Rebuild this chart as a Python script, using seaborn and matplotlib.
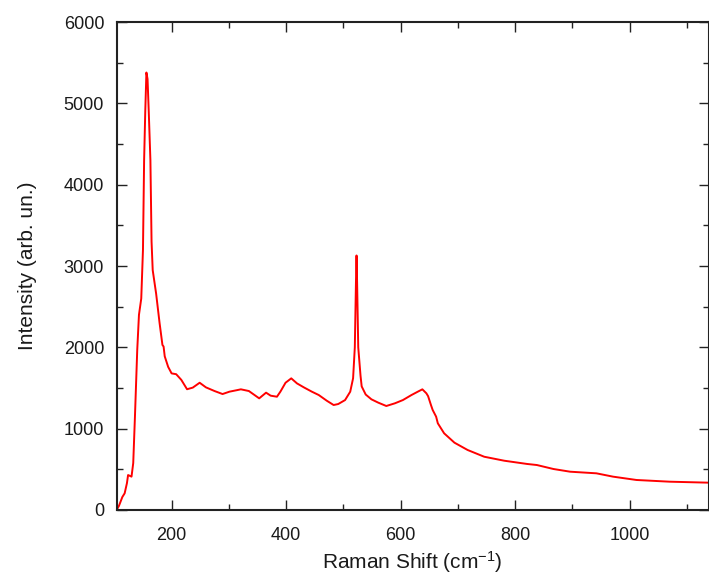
import numpy as np
import pandas as pd
import matplotlib.pyplot as plt
from matplotlib.ticker import MultipleLocator
import seaborn as sns

# --- Spectrum --------------------------------------------------------------
raman_shift = [104, 108, 114, 118, 122, 124, 127, 130, 133, 136, 140, 143, 147,
               150, 152, 154, 156, 158, 160, 163, 165, 167, 173, 179, 184, 186,
               188, 194, 200, 208, 217, 227, 237, 249, 260, 275, 289, 301, 315,
               321, 335, 353, 365, 373, 384, 390, 399, 409, 419, 431, 445, 457,
               471, 483, 491, 503, 512, 517, 520, 522, 523, 524, 526, 530, 532,
               539, 549, 561, 575, 590, 604, 619, 630, 638, 645, 648, 653, 656,
               662, 665, 676, 694, 717, 746, 781, 821, 838, 867, 896, 942, 971,
               1012, 1070, 1138]
intensity = [0, 50, 160, 205, 330, 430, 420, 410, 577, 1150, 1970, 2400, 2600,
             3200, 4300, 4900, 5380, 5300, 4920, 4300, 3300, 2950, 2660, 2300,
             2030, 2010, 1890, 1760, 1680, 1670, 1600, 1485, 1505, 1565, 1508,
             1463, 1426, 1455, 1475, 1484, 1463, 1373, 1443, 1406, 1393, 1455,
             1565, 1619, 1557, 1508, 1455, 1414, 1344, 1291, 1303, 1352, 1455,
             1620, 2000, 2800, 3130, 2800, 2000, 1650, 1520, 1420, 1361, 1320,
             1279, 1312, 1352, 1414, 1455, 1484, 1435, 1400, 1291, 1230, 1148,
             1066, 943, 828, 738, 655, 606, 566, 553, 504, 471, 451, 410, 369,
             348, 336]

df = pd.DataFrame({"shift": raman_shift, "intensity": intensity})

sns.set_style("ticks")
plt.rcParams["font.family"] = ["Liberation Sans", "DejaVu Sans"]
plt.rcParams["mathtext.fontset"] = "custom"
plt.rcParams["mathtext.rm"] = "Liberation Sans"
plt.rcParams["mathtext.it"] = "Liberation Sans"

fig = plt.figure(figsize=(7.09, 5.76), dpi=100)
ax = fig.add_axes([0.1645, 0.1146, 0.835, 0.847])

sns.lineplot(data=df, x="shift", y="intensity", ax=ax, color="#ff0000",
             linewidth=1.4, estimator=None)

ax.set_xlim(104, 1138)
ax.set_ylim(0, 6000)
ax.xaxis.set_major_locator(MultipleLocator(200))
ax.xaxis.set_minor_locator(MultipleLocator(100))
ax.yaxis.set_major_locator(MultipleLocator(1000))
ax.yaxis.set_minor_locator(MultipleLocator(500))

ax.tick_params(which="both", direction="in", top=True, right=True,
               width=1.0, color="#222222", labelsize=13, labelcolor="#1a1a1a")
ax.tick_params(which="major", length=7)
ax.tick_params(which="minor", length=4)
ax.tick_params(axis="x", pad=12)
ax.tick_params(axis="y", pad=9)
for s in ax.spines.values():
    s.set_linewidth(1.5)
    s.set_color("#222222")

ax.set_xlabel(r"Raman Shift (cm$^{-1}$)", fontsize=15, color="#1a1a1a", labelpad=4)
ax.set_ylabel("Intensity (arb. un.)", fontsize=15, color="#1a1a1a", labelpad=19)

fig.savefig("out.png", dpi=100)
